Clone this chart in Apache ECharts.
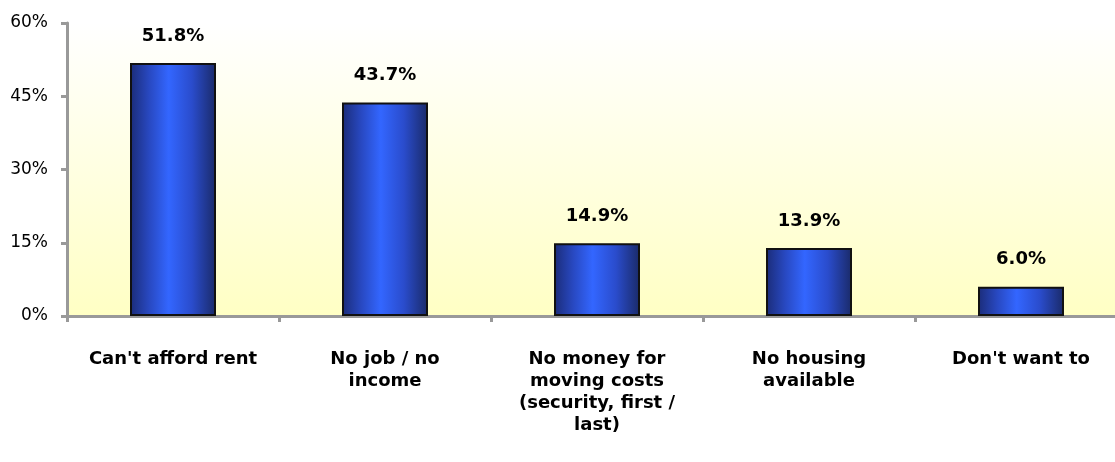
<!DOCTYPE html>
<html>
<head>
<meta charset="utf-8">
<script src="https://cdn.jsdelivr.net/npm/echarts@6/dist/echarts.min.js"></script>
<style>
  html, body { margin: 0; padding: 0; background: #ffffff; overflow: hidden; }
  #chart { width: 1115px; height: 462px; }
</style>
</head>
<body>
<div id="chart"></div>
<script>
// Reasons given for not moving
const categories = [
  "Can't afford rent",
  "No job / no\nincome",
  "No money for\nmoving costs\n(security, first /\nlast)",
  "No housing\navailable",
  "Don't want to"
];
const values = [51.8, 43.7, 14.9, 13.9, 6.0];
const yTicks = [0, 15, 30, 45, 60];

const chart = echarts.init(document.getElementById('chart'));

const barFill = new echarts.graphic.LinearGradient(0, 0, 1, 0, [
  { offset: 0, color: '#1b2c78' },
  { offset: 0.22, color: '#2848c0' },
  { offset: 0.45, color: '#3366ff' },
  { offset: 0.72, color: '#2a4ccc' },
  { offset: 1, color: '#1a2a68' }
]);

chart.setOption({
  animation: false,
  grid: {
    left: 67,
    width: 1060,
    top: 23,
    height: 293,
    outerBoundsMode: 'none',
    containLabel: false,
    show: true,
    borderWidth: 0,
    backgroundColor: new echarts.graphic.LinearGradient(0, 0, 0, 1, [
      { offset: 0, color: '#ffffff' },
      { offset: 1, color: '#ffffc4' }
    ])
  },
  xAxis: {
    type: 'category',
    data: categories,
    boundaryGap: true,
    axisLine: { lineStyle: { color: '#999999', width: 3 } },
    axisTick: { show: true, length: 6, alignWithLabel: false, lineStyle: { color: '#999999', width: 3 } },
    axisLabel: {
      interval: 0,
      margin: 32,
      color: '#000000',
      fontFamily: 'DejaVu Sans',
      fontWeight: 'bold',
      fontSize: 18,
      lineHeight: 22,
      align: 'center'
    }
  },
  yAxis: {
    type: 'value',
    min: yTicks[0],
    max: yTicks[yTicks.length - 1],
    interval: 15,
    splitLine: { show: false },
    axisLine: { show: true, lineStyle: { color: '#999999', width: 3 } },
    axisTick: { show: true, length: 6, lineStyle: { color: '#999999', width: 3 } },
    axisLabel: {
      margin: 19,
      color: '#000000',
      fontFamily: 'DejaVu Sans',
      fontSize: 17,
      formatter: v => v + '%'
    }
  },
  series: [{
    type: 'bar',
    data: values,
    barWidth: 86,
    itemStyle: {
      color: barFill,
      borderColor: '#111111',
      borderWidth: 2
    },
    label: {
      show: true,
      position: 'top',
      distance: 18,
      color: '#000000',
      fontFamily: 'DejaVu Sans',
      fontWeight: 'bold',
      fontSize: 18,
      formatter: p => p.value.toFixed(1) + '%'
    }
  }]
});
</script>
</body>
</html>
